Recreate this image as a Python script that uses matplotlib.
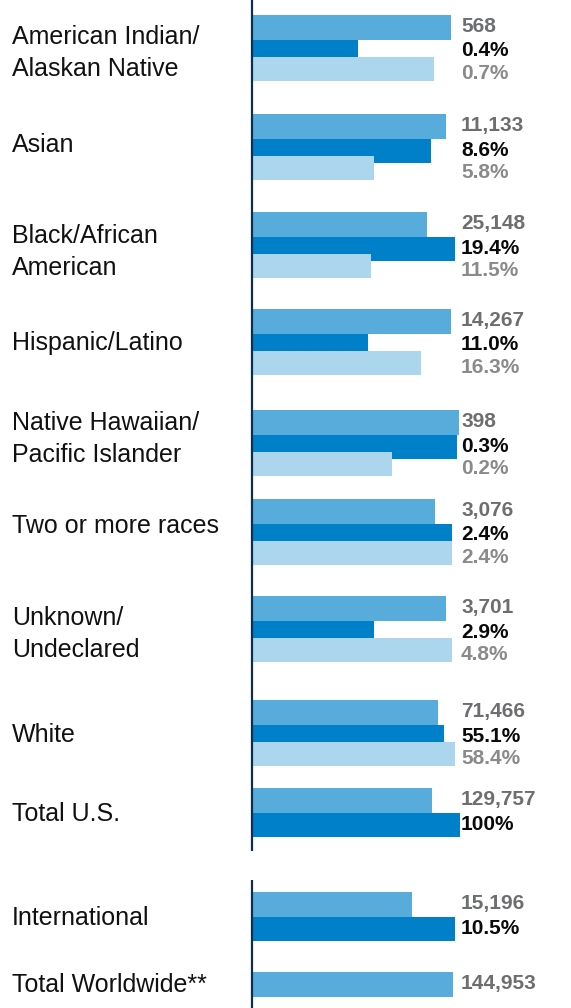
import matplotlib
matplotlib.use("Agg")
import matplotlib.pyplot as plt

# ---------------- data ----------------
categories = [
    "American Indian/\nAlaskan Native",
    "Asian",
    "Black/African\nAmerican",
    "Hispanic/Latino",
    "Native Hawaiian/\nPacific Islander",
    "Two or more races",
    "Unknown/\nUndeclared",
    "White",
    "Total U.S.",
    "International",
    "Total Worldwide**",
]
count_labels = ["568", "11,133", "25,148", "14,267", "398", "3,076", "3,701",
                "71,466", "129,757", "15,196", "144,953"]
share_labels = ["0.4%", "8.6%", "19.4%", "11.0%", "0.3%", "2.4%", "2.9%",
                "55.1%", "100%", "10.5%", None]
ref_labels = ["0.7%", "5.8%", "11.5%", "16.3%", "0.2%", "2.4%", "4.8%",
              "58.4%", None, None, None]

# bar lengths as drawn in the reference (arbitrary display units)
count_bar = [198, 193, 174, 198, 206, 182, 193, 185, 179, 159, 200]
share_bar = [105, 178, 202, 115, 204, 199, 121, 191, 207, 202, None]
ref_bar = [181, 121, 118, 168, 139, 199, 199, 202, None, None, None]

# ---------------- layout ----------------
W, H = 571, 1008
group_top = [15, 114, 212, 309, 410, 499, 596, 700, 788, 892, 972]
cat_baseline = [44, 152, 243, 350, 430, 533, 625, 742, 821, 925, 992]
line_gap = 32
x0 = 253
label_x = 461
bar_h = 24.5
offsets = [0, 24.5, 41.5]

c_count = "#58acdb"
c_share = "#0080c8"
c_ref = "#acd6ee"
axis_col = "#0c2f50"

fig = plt.figure(figsize=(W / 100, H / 100), dpi=100)
ax = fig.add_axes([0, 0, 1, 1])
ax.set_xlim(0, W)
ax.set_ylim(H, 0)
ax.axis("off")

cat_font = dict(family=["Liberation Sans", "DejaVu Sans"], fontsize=18, color="#111111")
val_font = dict(family=["Liberation Sans", "DejaVu Sans"], fontsize=15, fontweight="bold")

for i, cat in enumerate(categories):
    g = group_top[i]
    series = [(count_bar[i], c_count), (share_bar[i], c_share), (ref_bar[i], c_ref)]
    for k, (val, col) in enumerate(series):
        if val is None:
            continue
        ax.barh(g + offsets[k], val, left=x0, height=bar_h, align="edge",
                color=col, linewidth=0, zorder=2 + k)
    # value labels
    ax.text(label_x, g + 17, count_labels[i], color="#6d6e70", va="baseline", ha="left", **val_font)
    if share_labels[i] is not None:
        ax.text(label_x, g + 41.5, share_labels[i], color="#0a0a0a", va="baseline", ha="left", **val_font)
    if ref_labels[i] is not None:
        ax.text(label_x, g + 64, ref_labels[i], color="#8a8a8a", va="baseline", ha="left", **val_font)
    # category labels
    for j, line in enumerate(cat.split("\n")):
        ax.text(12, cat_baseline[i] + j * line_gap, line, va="baseline", ha="left", **cat_font)

# vertical axis lines
ax.plot([252, 252], [0, 851], color=axis_col, lw=1.6, zorder=10, solid_capstyle="butt")
ax.plot([252, 252], [880, H], color=axis_col, lw=1.6, zorder=10, solid_capstyle="butt")

fig.savefig("out.png", dpi=100)
